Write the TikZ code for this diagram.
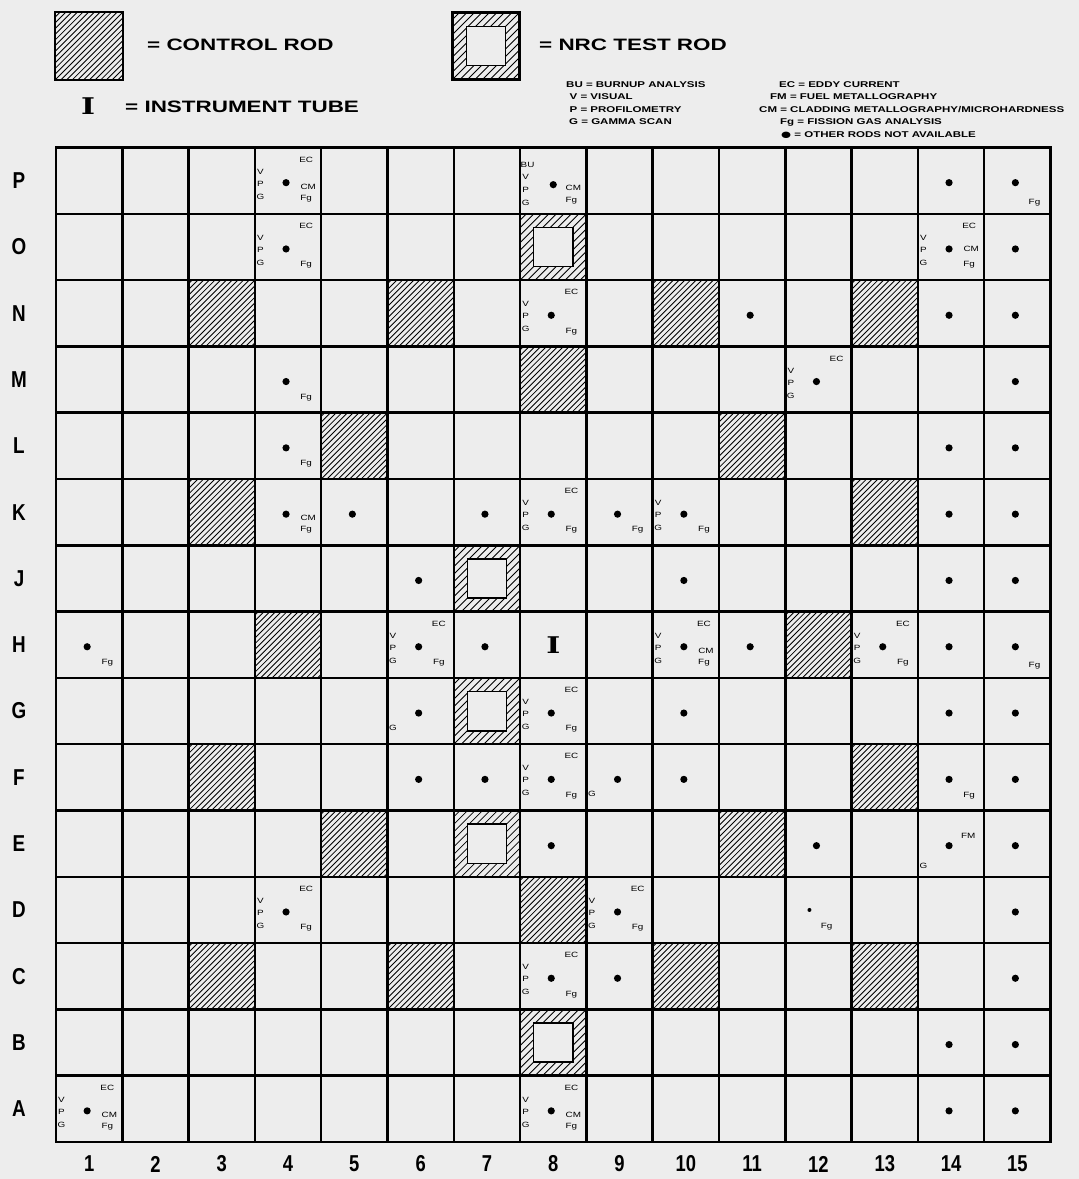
\documentclass[tikz,border=0pt]{standalone}
\usepackage{graphicx}
\usepackage{fontspec}
\setmainfont{Liberation Sans}
\newfontfamily\dvs{DejaVu Sans}
\newfontfamily\dvserif{DejaVu Serif}
\usetikzlibrary{calc}
\definecolor{bgc}{gray}{0.93}
\newcommand\wX[2]{\scalebox{#1}[1]{#2}}
\tikzset{
  gridl/.style={line width=2.5pt, line cap=rect},
  cellbox/.style={rectangle, minimum size=66.3pt, inner sep=0pt, outer sep=0pt},
  hatchl/.style={line width=0.85pt},
  clab/.style={font=\fontsize{7.6}{7.6}\selectfont, inner sep=0pt},
  rdot/.style={circle, fill=black, inner sep=0pt, minimum size=7.2pt},
  rowlab/.style={font=\fontsize{23}{23}\selectfont\bfseries, inner sep=0pt},
  biglab/.style={font=\fontsize{16.5}{16.5}\selectfont\bfseries, inner sep=0pt, anchor=west},
  leglab/.style={font=\fontsize{8.4}{8.4}\selectfont\bfseries, inner sep=0pt, anchor=west},
  instr/.style={font={\dvserif\fontsize{23}{23}\selectfont\bfseries}, inner sep=0pt},
}
\newcommand\Vpg[1]{%
  \node[clab] (#1v) at ($(#1.west)+(5.5,-9)$) {\wX{1.3}{V}};
  \node[clab] (#1p) at ($(#1.west)+(5.5,3)$) {\wX{1.3}{P}};
  \node[clab] (#1g) at ($(#1.west)+(5.5,16)$) {\wX{1.3}{G}};}
\newcommand\Gonly[1]{\node[clab] (#1g) at ($(#1.west)+(5.5,17)$) {\wX{1.3}{G}};}
\newcommand\Dot[1]{\node[rdot] (#1d) at ($(#1.center)+(-2,2)$) {};}
\newcommand\Ec[1]{\node[clab] (#1ec) at ($(#1.north east)+(-15,12)$) {\wX{1.3}{EC}};}
\newcommand\Cm[1]{\node[clab] (#1cm) at ($(#1.east)+(-13,6)$) {\wX{1.3}{CM}};}
\newcommand\Fg[1]{\node[clab] (#1fg) at ($(#1.east)+(-15,18)$) {\wX{1.3}{Fg}};}
\newcommand\Crod[1]{\begin{scope}\clip (#1.south west) rectangle (#1.north east);
  \foreach \k in {-12,...,12} \draw[hatchl] ($(#1.center)+(\k*5.7-40,40)$) -- ++(80,-80);\end{scope}}
\newcommand\Trod[1]{\begin{scope}\clip (#1.south west) rectangle (#1.north east);
  \foreach \k in {-9,...,9} \draw[hatchl] ($(#1.center)+(\k*7.5-40,40)$) -- ++(80,-80);\end{scope}
  \node[draw, fill=bgc, line width=1.6pt, minimum size=39.3pt, inner sep=0pt, outer sep=0pt] (#1in) at (#1.center) {};}
\begin{document}
\begin{tikzpicture}[x=1pt,y=-1pt]
\fill[bgc] (0,0) rectangle (1079,1179);
\useasboundingbox (0,0) rectangle (1079,1179);
% ---------- legend ----------
\node[cellbox, minimum size=68pt] (legCR) at (89,46) {};
\Crod{legCR}
\draw[gridl] (legCR.south west) rectangle (legCR.north east);
\node[biglab] (tCR) at (147,45) {\wX{1.36}{= CONTROL ROD}};
\node[cellbox, minimum size=67pt] (legTR) at (486,46) {};
\Trod{legTR}
\draw[gridl] (legTR.south west) rectangle (legTR.north east);
\node[biglab] (tTR) at (539,45) {\wX{1.36}{= NRC TEST ROD}};
\node[instr] (legI) at (88,106) {\wX{1.3}{I}};
\node[biglab] (tIT) at (125,107) {\wX{1.36}{= INSTRUMENT TUBE}};
\node[leglab] (lBU) at (566,85) {\wX{1.37}{BU = BURNUP ANALYSIS}};
\node[leglab] (lV) at (569.5,97) {\wX{1.37}{V = VISUAL}};
\node[leglab] (lP) at (569.5,110) {\wX{1.37}{P = PROFILOMETRY}};
\node[leglab] (lG) at (569,122) {\wX{1.37}{G = GAMMA SCAN}};
\node[leglab] (lEC) at (779,85) {\wX{1.37}{EC = EDDY CURRENT}};
\node[leglab] (lFM) at (770,97) {\wX{1.37}{FM = FUEL METALLOGRAPHY}};
\node[leglab] (lCM) at (759,110) {\wX{1.37}{CM = CLADDING METALLOGRAPHY/MICROHARDNESS}};
\node[leglab] (lFg) at (780,122) {\wX{1.37}{Fg = FISSION GAS ANALYSIS}};
\node[leglab] (lDot) at (781,135) {\wX{1.37}{{\dvs ●} = OTHER RODS NOT AVAILABLE}};
% ---------- cells ----------
\foreach \r [count=\ri from 0] in {P,O,N,M,L,K,J,H,G,F,E,D,C,B,A} {
  \node[rowlab] (row\r) at (19,{147.5+66.3*(\ri+0.5)}) {\wX{0.82}{\r}};
  \foreach \c in {1,...,15} {
    \node[cellbox] (\r\c) at ({56+66.3*(\c-0.5)},{147.5+66.3*(\ri+0.5)}) {};
  }
}
\foreach \c in {1,...,15}
  \node[rowlab] (col\c) at ({56+66.3*(\c-0.5)},1164) {\wX{0.8}{\c}};
% control rods and test rods
\foreach \n in {N3,N6,N10,N13,M8,L5,L11,K3,K13,H4,H12,F3,F13,E5,E11,D8,C3,C6,C10,C13} {\Crod{\n}}
\foreach \n in {O8,J7,G7,E7,B8} {\Trod{\n}}
% grid lines
\foreach \c in {1,...,15} \draw[gridl] (P\c.north west) -- (A\c.south west);
\draw[gridl] (P15.north east) -- (A15.south east);
\foreach \r in {P,O,N,M,L,K,J,H,G,F,E,D,C,B,A} \draw[gridl] (\r1.north west) -- (\r15.north east);
\draw[gridl] (A1.south west) -- (A15.south east);
% ---------- cell contents ----------
% row P
\Vpg{P4}\Dot{P4}\Ec{P4}\Cm{P4}\Fg{P4}
\node[clab] (P8bu) at ($(P8.west)+(7.5,-16)$) {\wX{1.3}{BU}};
\node[clab] (P8v) at ($(P8.west)+(5.5,-4)$) {\wX{1.3}{V}};
\node[clab] (P8p) at ($(P8.west)+(5.5,9)$) {\wX{1.3}{P}};
\node[clab] (P8g) at ($(P8.west)+(5.5,22)$) {\wX{1.3}{G}};
\node[rdot] (P8d) at ($(P8.center)+(0,4)$) {};
\node[clab] (P8cm) at ($(P8.east)+(-13,7)$) {\wX{1.3}{CM}};
\node[clab] (P8fg) at ($(P8.east)+(-15,20)$) {\wX{1.3}{Fg}};
\Dot{P14}\Dot{P15}
\node[clab] (P15fg) at ($(P15.east)+(-16,22)$) {\wX{1.3}{Fg}};
% row O
\Vpg{O4}\Dot{O4}\Ec{O4}\Fg{O4}
\Vpg{O14}\Dot{O14}\Ec{O14}\Fg{O14}
\node[clab] (O14cm) at ($(O14.east)+(-13,2)$) {\wX{1.3}{CM}};
\Dot{O15}
% row N
\Vpg{N8}\Dot{N8}\Ec{N8}\Fg{N8}
\Dot{N11}\Dot{N14}\Dot{N15}
% row M
\Dot{M4}\Fg{M4}
\Vpg{M12}\Dot{M12}\Ec{M12}
\Dot{M15}
% row L
\Dot{L4}\Fg{L4}\Dot{L14}\Dot{L15}
% row K
\Dot{K4}\Cm{K4}\Fg{K4}
\Dot{K5}\Dot{K7}
\Vpg{K8}\Dot{K8}\Ec{K8}\Fg{K8}
\Dot{K9}\Fg{K9}
\Vpg{K10}\Dot{K10}\Fg{K10}
\Dot{K14}\Dot{K15}
% row J
\Dot{J6}\Dot{J10}\Dot{J14}\Dot{J15}
% row H
\Dot{H1}\Fg{H1}
\Vpg{H6}\Dot{H6}\Ec{H6}\Fg{H6}
\Dot{H7}
\node[instr] (H8i) at (H8.center) {\wX{1.3}{I}};
\Vpg{H10}\Dot{H10}\Ec{H10}\Cm{H10}\Fg{H10}
\Dot{H11}
\Vpg{H13}\Dot{H13}\Ec{H13}\Fg{H13}
\Dot{H14}\Dot{H15}
\node[clab] (H15fg) at ($(H15.east)+(-16,21)$) {\wX{1.3}{Fg}};
% row G
\Dot{G6}\Gonly{G6}
\Vpg{G8}\Dot{G8}\Ec{G8}\Fg{G8}
\Dot{G10}\Dot{G14}\Dot{G15}
% row F
\Dot{F6}\Dot{F7}
\Vpg{F8}\Dot{F8}\Ec{F8}\Fg{F8}
\Dot{F9}\Gonly{F9}
\Dot{F10}
\Dot{F14}\Fg{F14}
\Dot{F15}
% row E
\Dot{E8}\Dot{E12}
\Dot{E14}
\node[clab] (E14fm) at ($(E14.east)+(-16,-8)$) {\wX{1.3}{FM}};
\node[clab] (E14g) at ($(E14.west)+(5.5,22)$) {\wX{1.3}{G}};
\Dot{E15}
% row D
\Vpg{D4}\Dot{D4}\Ec{D4}\Fg{D4}
\Vpg{D9}\Dot{D9}\Ec{D9}\Fg{D9}
\node[circle, fill=black, inner sep=0pt, minimum size=4pt] (D12d) at ($(D12.center)+(-9,0)$) {};
\node[clab] (D12fg) at ($(D12.east)+(-25,17)$) {\wX{1.3}{Fg}};
\Dot{D15}
% row C
\Vpg{C8}\Dot{C8}\Ec{C8}\Fg{C8}
\Dot{C9}\Dot{C15}
% row B
\Dot{B14}\Dot{B15}
% row A
\Vpg{A1}\Dot{A1}\Ec{A1}\Cm{A1}\Fg{A1}
\Vpg{A8}\Dot{A8}\Ec{A8}\Cm{A8}\Fg{A8}
\Dot{A14}\Dot{A15}
\end{tikzpicture}
\end{document}
